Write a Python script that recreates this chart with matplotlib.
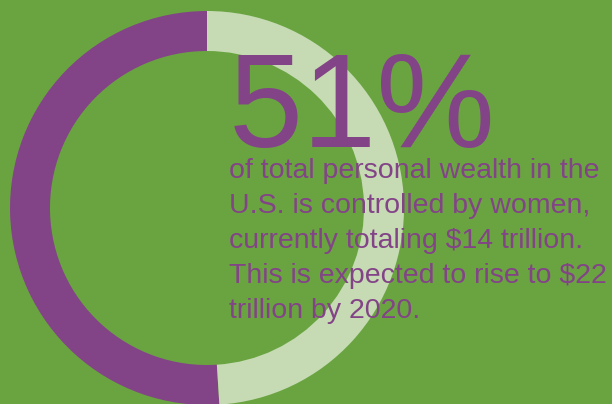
import matplotlib
matplotlib.use("Agg")
import matplotlib.pyplot as plt

# data
labels = ["Women", "Other"]
shares = [51, 49]
headline = "51%"
body_lines = [
    "of total personal wealth in the",
    "U.S. is controlled by women,",
    "currently totaling $14 trillion.",
    "This is expected to rise to $22",
    "trillion by 2020.",
]

BG = "#6aa441"
PURPLE = "#834487"
LIGHT = "#c6dbb4"

W, H = 612, 404
fig = plt.figure(figsize=(W / 100, H / 100), dpi=100)
fig.patch.set_facecolor(BG)
ax = fig.add_axes([0, 0, 1, 1])
ax.set_facecolor(BG)

ax.pie(shares, colors=[PURPLE, LIGHT], startangle=90, counterclock=True,
       center=(207, H - 208), radius=197,
       wedgeprops=dict(width=40, edgecolor="none", linewidth=0))
ax.set_xlim(0, W)
ax.set_ylim(0, H)
ax.set_aspect("equal")
ax.axis("off")

ax.text(229, H - 147, headline, fontsize=96, color=PURPLE,
        family="Liberation Sans", ha="left", va="baseline")

for i, line in enumerate(body_lines):
    ax.text(229, H - 178 - 35 * i, line, fontsize=20.5, color=PURPLE,
            family="Liberation Sans", ha="left", va="baseline")

fig.savefig("out.png", dpi=100, facecolor=BG)
